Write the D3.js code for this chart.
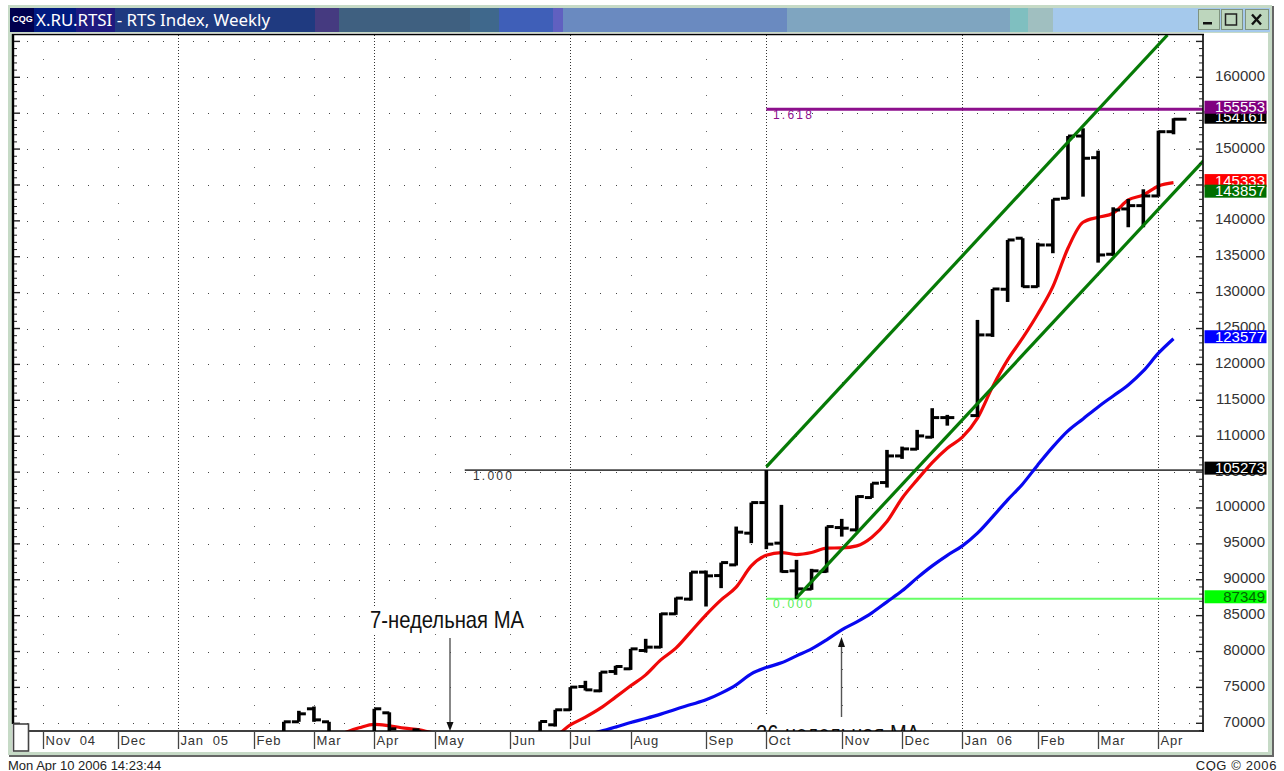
<!DOCTYPE html>
<html><head><meta charset="utf-8">
<script src="https://cdn.jsdelivr.net/npm/d3@7/dist/d3.min.js"></script>
<style>html,body{margin:0;padding:0;background:#fff;overflow:hidden}svg{display:block}text{font-family:"Liberation Sans",Arial,sans-serif}</style>
</head><body><svg id="c" width="1284" height="771"></svg>
<script>
// ---- data ----
const titleText = "X.RU.RTSI - RTS Index, Weekly";
const monthLabels = ["Nov  04","Dec","Jan  05","Feb","Mar","Apr","May","Jun","Jul","Aug","Sep","Oct","Nov","Dec","Jan  06","Feb","Mar","Apr"];
const monthWeeks  = [0,5,9,14,18,22,26,31,35,39,44,48,53,57,61,66,70,74];
const quarterWeeks = [9,22,35,48,61,74];
const weeks = [16,17,18,19,22,23,25,33,34,35,36,37,38,39,40,41,42,43,44,45,46,47,48,49,50,51,52,53,54,55,56,57,58,59,60,62,63,64,65,66,67,68,69,70,71,72,73,74,75];
const opens = [67980,70210,72020,70210,67980,71460,69090,68400,69790,71880,75120,74520,77210,77590,80140,80610,85250,87300,91060,90580,92070,96490,100750,95100,91240,88690,91140,97270,96950,101450,103540,107250,108190,109860,112590,112870,124110,130470,137580,130830,136640,143150,151820,148800,135350,141660,142120,143470,152420];
const highs = [70210,71740,72340,70210,72020,71530,69090,70250,71880,75040,75920,77130,78010,80370,81770,85350,87520,91060,91280,92390,97410,100750,105273,100430,92770,91520,97410,98480,101730,103450,108090,108550,110880,113900,112970,126200,130510,137340,137580,136960,143010,151820,152900,149780,141890,143050,144400,152560,154290];
const lows  = [67000,70210,70210,68400,67000,68400,67980,68400,69550,71780,74570,74340,76750,77450,79860,80470,85110,87100,86270,88830,91980,95100,94260,91000,87349,88590,91000,96010,96710,101400,102840,106840,108090,109720,111470,112690,123830,128700,130750,130750,135490,143010,143370,134180,135110,139110,139110,143370,152060];
const closes= [70210,71320,70480,68670,72020,69230,68400,70250,71880,75040,74660,77130,77910,80370,80610,85250,87440,91060,90540,92390,96630,100750,94960,91140,88730,91240,97410,97180,101590,103450,107250,108230,110040,112590,112590,124110,130510,137340,130830,136640,143010,151820,148720,135250,141520,142120,143470,152420,154161];
const ma7Weeks = [20,21,22,23,24,25,26,34,35,36,37,38,39,40,41,42,43,44,45,46,47,48,49,50,51,52,53,54,55,56,57,58,59,60,61,62,63,64,65,66,67,68,69,70,71,72,73,74,75];
const ma7 = [68670,69370,69860,69650,69330,69090,68670,68400,69790,70860,72110,73650,75220,76750,78840,80470,82780,85110,87200,88970,91930,93400,93790,93510,93790,94400,94440,94720,95930,98100,101360,103910,106320,108330,109860,112510,116870,120630,123690,127030,130830,136180,139800,140500,141060,142910,143610,144860,145333];
const ma26Weeks = [36,37,38,39,40,41,42,43,44,45,46,47,48,49,50,51,52,53,54,55,56,57,58,59,60,61,62,63,64,65,66,67,68,69,70,71,72,73,74,75];
const ma26 = [68400,68880,69470,70110,70670,71280,71970,72610,73270,74200,75360,76890,77770,78420,79400,80370,81630,83020,84130,85390,86920,88450,90260,91930,93400,94720,96490,98760,101130,103350,106000,108510,110740,112410,114080,115610,117140,119090,121560,123577];
const channelUpper = [[48,105720],[74.6,165890]];
const channelLower = [[50,87480],[77,148380]];
const fibLevels = [155553,105273,87349];
const fibNames  = ["1.618","1.000","0.000"];
const fibStart  = [48,28,48];
const yTicks = d3.range(70000,165000,5000);
const priceLabels = [154161,155553,145333,143857,123577,105273,87349];

// ---- chrome constants ----
const L=13,T=35,R=1203,B=731;
const titleBands=[[10,34,"#00004e"],[34,76,"#001a80"],[76,115,"#1f1a80"],[115,315,"#1f3a80"],[315,339,"#453a80"],[339,470,"#3f6080"],[470,499,"#3f688c"],[499,553,"#3f5fb8"],[553,563,"#6060c0"],[563,787,"#6a8ac0"],[787,1010,"#7fa5c0"],[1010,1028,"#7fbfc0"],[1028,1053,"#a0bfc0"],[1053,1197,"#a5c9ec"]];
const frame="#c6dac6";

const x=d3.scaleLinear().domain([0,75]).range([42.5,1173.5]);
const y=d3.scaleLinear().domain([70000,160000]).range([723.3,77.3]);
const svg=d3.select("#c");

// window frame
svg.append("rect").attr("x",8).attr("y",5).attr("width",1264).attr("height",750).attr("fill",frame);
svg.append("rect").attr("x",1272).attr("y",6).attr("width",2).attr("height",751).attr("fill","#666");
svg.append("rect").attr("x",9).attr("y",755).attr("width",1265).attr("height",2).attr("fill","#666");
svg.selectAll(".band").data(titleBands).join("rect").attr("x",d=>d[0]).attr("y",8).attr("width",d=>d[1]-d[0]).attr("height",24).attr("fill",d=>d[2]);
svg.append("rect").attr("x",1197).attr("y",8).attr("width",73).attr("height",24).attr("fill","#a5c9ec");
svg.append("text").attr("x",22.5).attr("y",22).attr("text-anchor","middle").attr("fill","#fff").attr("font-size",9).attr("font-weight","bold").text("CQG");
svg.append("text").attr("x",36).attr("y",25.5).attr("fill","#fff").attr("font-size",17).style("font-family","'Noto Sans'").attr("textLength",234).attr("lengthAdjust","spacingAndGlyphs").text(titleText);

// buttons
[[1198,21],[1221,21],[1245,23]].forEach(b=>{
  svg.append("rect").attr("x",b[0]+.5).attr("y",9.5).attr("width",b[1]).attr("height",20).attr("fill","#bdd6bd").attr("stroke","#7f937f");
});
svg.append("rect").attr("x",1203).attr("y",22).attr("width",9).attr("height",2.5).attr("fill","#111");
svg.append("rect").attr("x",1225.5).attr("y",14).attr("width",11).attr("height",11).attr("fill","none").attr("stroke","#222").attr("stroke-width",1.5);
svg.append("path").attr("d","M1252 14.5L1261 24.5M1261 14.5L1252 24.5").attr("stroke","#111").attr("stroke-width",2.4).attr("fill","none");

// panels
svg.append("rect").attr("x",12).attr("y",33).attr("width",1256).attr("height",719).attr("fill","#fff");

// clip
svg.append("clipPath").attr("id","plot").append("rect").attr("x",L).attr("y",T).attr("width",R-L).attr("height",B-T);
const plot=svg.append("g").attr("clip-path","url(#plot)");

// grid dots
const denseX=d3.range(-1,78).filter(i=>!quarterWeeks.includes(i));
yTicks.concat([165000]).forEach(v=>{
  plot.append("g").selectAll("rect").data(denseX).join("rect")
    .attr("x",i=>Math.round(x(i))).attr("y",Math.round(y(v))).attr("width",1).attr("height",1).attr("fill","#444");
});
const sparseX=monthWeeks.filter(i=>!quarterWeeks.includes(i));
d3.range(72500,165000,5000).forEach(v=>{
  plot.append("g").selectAll("rect").data(sparseX).join("rect")
    .attr("x",i=>Math.round(x(i))).attr("y",Math.round(y(v))).attr("width",1).attr("height",1).attr("fill","#666");
});
plot.append("g").selectAll("line").data(quarterWeeks).join("line")
  .attr("x1",i=>Math.round(x(i))+.5).attr("x2",i=>Math.round(x(i))+.5).attr("y1",T).attr("y2",B)
  .attr("stroke","#333").attr("stroke-dasharray","1 2");

// annotation backgrounds
plot.append("rect").attr("x",368).attr("y",606).attr("width",158).attr("height",27).attr("fill","#fff");
plot.append("rect").attr("x",753).attr("y",714).attr("width",170).attr("height",18).attr("fill","#fff");

// fib levels
const fibColor=["#8c0f8c","#444","#66ff66"],fibW=[3,1.6,2];
plot.append("g").selectAll("line").data(fibLevels).join("line")
  .attr("x1",(d,i)=>x(fibStart[i])).attr("x2",R).attr("y1",d=>y(d)).attr("y2",d=>y(d))
  .attr("stroke",(d,i)=>fibColor[i]).attr("stroke-width",(d,i)=>fibW[i]);
plot.append("g").selectAll("text").data(fibLevels).join("text")
  .attr("x",(d,i)=>i==1?473:773).attr("y",d=>y(d)+9.5).attr("font-size",12).attr("letter-spacing",2.2)
  .attr("fill",(d,i)=>["#8c0f8c","#333","#55ee55"][i]).text((d,i)=>fibNames[i]);

// moving averages
const line=d3.line().x(d=>x(d[0])).y(d=>y(d[1]));
const smooth=d3.line().x(d=>x(d[0])).y(d=>y(d[1])).curve(d3.curveMonotoneX);
plot.append("path").attr("d",smooth(ma26Weeks.map((w,i)=>[w,ma26[i]]))).attr("fill","none").attr("stroke","#0808f0").attr("stroke-width",3.2).attr("stroke-linejoin","round");
plot.append("path").attr("d",smooth(ma7Weeks.map((w,i)=>[w,ma7[i]]))).attr("fill","none").attr("stroke","#f00808").attr("stroke-width",3.2).attr("stroke-linejoin","round");

// price bars
const bars=plot.append("g").attr("stroke","#000").attr("stroke-width",3);
weeks.forEach((w,i)=>{
  const X=x(w), last=i===weeks.length-1;
  bars.append("line").attr("x1",X).attr("x2",X).attr("y1",y(highs[i])).attr("y2",y(lows[i])).attr("stroke-width",3.6);
  bars.append("line").attr("x1",X-7).attr("x2",X).attr("y1",y(opens[i])).attr("y2",y(opens[i]));
  bars.append("line").attr("x1",X).attr("x2",X+(last?13:7)).attr("y1",y(closes[i])).attr("y2",y(closes[i]));
});

// channel
plot.append("g").selectAll("path").data([channelUpper,channelLower]).join("path")
  .attr("d",line).attr("fill","none").attr("stroke","#067a06").attr("stroke-width",3.2);

// annotations
plot.append("text").attr("x",370).attr("y",628).attr("font-size",24).attr("textLength",154).attr("lengthAdjust","spacingAndGlyphs").attr("fill","#111").text("7-недельная МА");
plot.append("text").attr("x",756).attr("y",742).attr("font-size",24).attr("textLength",164).attr("lengthAdjust","spacingAndGlyphs").attr("fill","#111").text("26-недельная МА");
plot.append("line").attr("x1",450).attr("x2",450).attr("y1",638).attr("y2",726).attr("stroke","#555").attr("stroke-width",1.4);
plot.append("path").attr("d","M446.5 722L453.5 722L450 731Z").attr("fill","#111");
plot.append("line").attr("x1",841.5).attr("x2",841.5).attr("y1",717).attr("y2",642).attr("stroke","#555").attr("stroke-width",1.4);
plot.append("path").attr("d","M838 647L845 647L841.5 637Z").attr("fill","#111");

// axes borders
const ax=svg.append("g").attr("stroke","#000");
ax.append("line").attr("x1",12).attr("x2",R+1).attr("y1",34.5).attr("y2",34.5).attr("stroke-width",1.6);
ax.append("line").attr("x1",13).attr("x2",13).attr("y1",34).attr("y2",724).attr("stroke-width",2.4);
ax.append("line").attr("x1",R).attr("x2",R).attr("y1",34).attr("y2",B+1).attr("stroke-width",1.6);
ax.append("line").attr("x1",13).attr("x2",R+1).attr("y1",B).attr("y2",B).attr("stroke-width",1.6);

// y ticks
const minor=d3.range(69000,165500,1000);
const tk=svg.append("g").attr("stroke","#222");
tk.selectAll(".l").data(minor).join("line").attr("x1",14).attr("x2",d=>d%5000?17:20).attr("y1",d=>y(d)).attr("y2",d=>y(d)).attr("stroke-width",d=>d%5000?1:1.4);
tk.selectAll(".r").data(minor).join("line").attr("x1",d=>d%5000?1199:1196).attr("x2",R).attr("y1",d=>y(d)).attr("y2",d=>y(d)).attr("stroke-width",d=>d%5000?1:1.4);
svg.append("g").selectAll("text").data(yTicks).join("text")
  .attr("x",1265).attr("y",d=>y(d)+3.5).attr("text-anchor","end").attr("font-size",15).attr("fill","#333")
  .text(d=>d);

// x axis
svg.append("g").selectAll("line").data(monthWeeks).join("line")
  .attr("x1",i=>Math.round(x(i))+.5).attr("x2",i=>Math.round(x(i))+.5).attr("y1",B).attr("y2",749).attr("stroke","#444").attr("stroke-width",1.3);
svg.append("g").selectAll("text").data(monthWeeks).join("text")
  .attr("x",i=>Math.round(x(i))+2.5).attr("y",745).attr("font-size",13).attr("letter-spacing",.8).attr("fill","#333")
  .attr("xml:space","preserve").style("white-space","pre").text((d,i)=>monthLabels[i]);
svg.append("rect").attr("x",13.5).attr("y",724).attr("width",15).attr("height",27).attr("fill","#fff").attr("stroke","#444").attr("stroke-width",1.6);

// price labels
const labelFill={154161:"#000",155553:"#800080",145333:"#ff0000",143857:"#007000",123577:"#0000ff",105273:"#000",87349:"#00ff00"};
const pl=svg.append("g");
priceLabels.forEach(v=>{
  const yy=y(v)-2;
  pl.append("rect").attr("x",1204.5).attr("y",yy-6.5).attr("width",62).attr("height",13).attr("fill",labelFill[v]);
  pl.append("text").attr("x",1265).attr("y",yy+5).attr("text-anchor","end").attr("font-size",15)
    .attr("fill",v===87349?"#006600":"#fff").text(v);
});

// footer
svg.append("text").attr("x",8).attr("y",769.5).attr("font-size",13).attr("fill","#222").text("Mon Apr 10 2006 14:23:44");
svg.append("text").attr("x",1277).attr("y",769.5).attr("text-anchor","end").attr("font-size",13).attr("letter-spacing",.6).attr("fill","#222").text("CQG © 2006");
</script></body></html>
